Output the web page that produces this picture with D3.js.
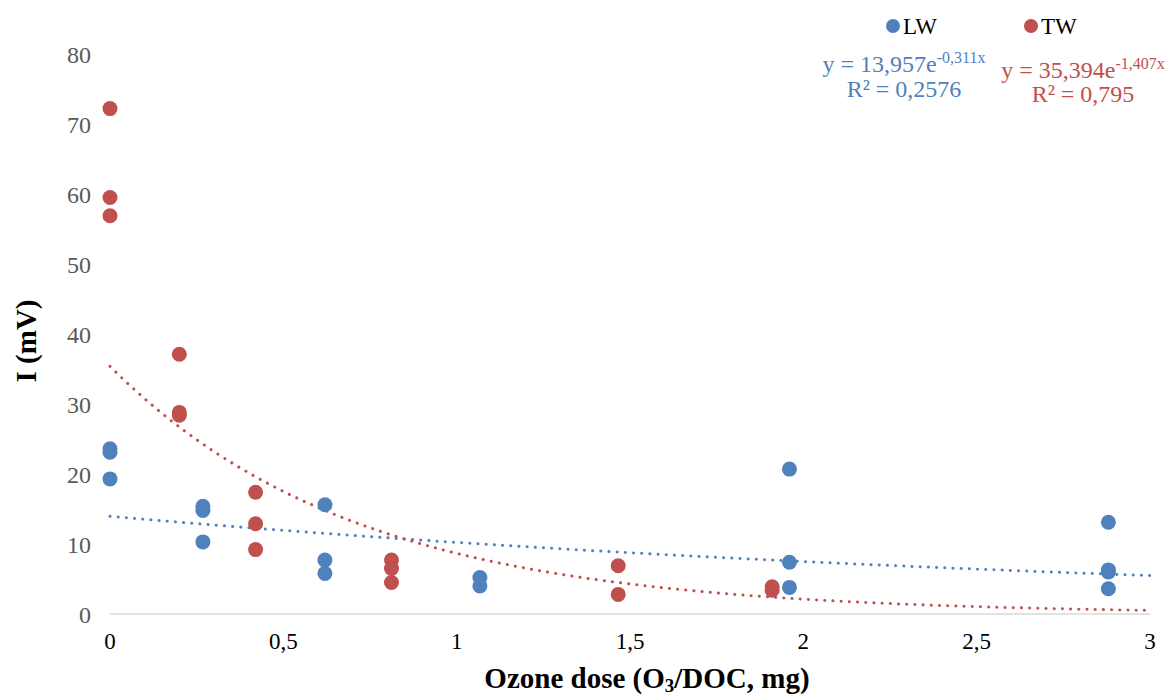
<!DOCTYPE html>
<html><head><meta charset="utf-8">
<script src="https://cdn.jsdelivr.net/npm/d3@7"></script>
<style>body{margin:0;background:#fff}svg{display:block}</style>
</head><body><svg id="c" width="1168" height="697" font-family="'Liberation Serif', 'DejaVu Serif', serif"></svg>
<script>
const seriesNames = ["LW", "TW"];
const seriesColors = ["#4f81bd", "#c0504d"];
const lwX = [0, 0, 0, 0.268, 0.268, 0.268, 0.62, 0.62, 0.62, 1.067, 1.067, 1.96, 1.96, 1.96, 2.88, 2.88, 2.88, 2.88];
const lwY = [23.6, 23.1, 19.3, 15.4, 14.8, 10.3, 15.6, 7.7, 5.8, 5.2, 4.0, 20.7, 7.4, 3.8, 13.1, 6.3, 6.0, 3.6];
const twX = [0, 0, 0, 0.2, 0.2, 0.2, 0.42, 0.42, 0.42, 0.812, 0.812, 0.812, 1.466, 1.466, 1.91, 1.91];
const twY = [72.2, 59.5, 56.9, 37.1, 28.8, 28.4, 17.4, 12.9, 9.2, 7.7, 6.5, 4.5, 6.9, 2.8, 3.9, 3.4];
const fitA = [13.957, 35.394];
const fitB = [-0.311, -1.407];
const eqText = [["y = 13,957e", "-0,311x", "R² = 0,2576"], ["y = 35,394e", "-1,407x", "R² = 0,795"]];
const xTicks = [0, 0.5, 1, 1.5, 2, 2.5, 3];
const xTickLabels = ["0", "0,5", "1", "1,5", "2", "2,5", "3"];
const yTicks = [0, 10, 20, 30, 40, 50, 60, 70, 80];

const svg = d3.select("#c");
const x = d3.scaleLinear().domain([0, 3]).range([110, 1150]);
const y = d3.scaleLinear().domain([0, 80]).range([614, 54]);

svg.append("line").attr("x1", x(0)).attr("x2", x(3)).attr("y1", y(0)).attr("y2", y(0))
  .attr("stroke", "#d9d9d9").attr("stroke-width", 1.5);

svg.append("g").selectAll("text").data(yTicks).join("text")
  .attr("x", 91).attr("y", d => y(d) + 9).attr("text-anchor", "end")
  .attr("font-size", 24).attr("fill", "#595959").text(d => d);
svg.append("g").selectAll("text").data(xTicks).join("text")
  .attr("x", d => x(d)).attr("y", 649).attr("text-anchor", "middle")
  .attr("font-size", 23).attr("fill", "#000").text((d, i) => xTickLabels[i]);

svg.append("text").attr("transform", "translate(36,341) rotate(-90)").attr("text-anchor", "middle")
  .attr("font-size", 29).attr("font-weight", "bold").text("I (mV)");
const xt = svg.append("text").attr("x", 647).attr("y", 688).attr("text-anchor", "middle")
  .attr("font-size", 29).attr("font-weight", "bold");
xt.append("tspan").text("Ozone dose (O");
xt.append("tspan").attr("font-size", 19).attr("dy", 4).text("3");
xt.append("tspan").attr("dy", -4).text("/DOC, mg)");

const xs = d3.range(0, 3.0001, 0.02);
[0, 1].forEach(i => {
  const line = d3.line().x(d => x(d)).y(d => y(fitA[i] * Math.exp(fitB[i] * d)));
  svg.append("path").attr("d", line(xs)).attr("fill", "none").attr("stroke", seriesColors[i])
    .attr("stroke-width", 3).attr("stroke-linecap", "round").attr("stroke-dasharray", "0.1 8.1");
});

const pts = [d3.zip(lwX, lwY), d3.zip(twX, twY)];
[0, 1].forEach(i => {
  svg.append("g").selectAll("circle").data(pts[i]).join("circle")
    .attr("cx", d => x(d[0])).attr("cy", d => y(d[1])).attr("r", 7.5)
    .attr("fill", seriesColors[i]);
});

const legX = [893, 1031];
[0, 1].forEach(i => {
  svg.append("circle").attr("cx", legX[i]).attr("cy", 26).attr("r", 7).attr("fill", seriesColors[i]);
  svg.append("text").attr("x", legX[i] + 10).attr("y", 34).attr("font-size", 23).attr("fill", "#000").text(seriesNames[i]);
});

const eqCX = [904, 1083];
const eqY = [72, 78];
const r2Y = [97, 102];
[0, 1].forEach(i => {
  const t = svg.append("text").attr("x", eqCX[i]).attr("y", eqY[i]).attr("text-anchor", "middle")
    .attr("font-size", 24).attr("fill", seriesColors[i]);
  t.append("tspan").text(eqText[i][0]);
  t.append("tspan").attr("font-size", 16).attr("dy", -9).text(eqText[i][1]);
  svg.append("text").attr("x", eqCX[i]).attr("y", r2Y[i]).attr("text-anchor", "middle")
    .attr("font-size", 24).attr("fill", seriesColors[i]).text(eqText[i][2]);
});
</script></body></html>
